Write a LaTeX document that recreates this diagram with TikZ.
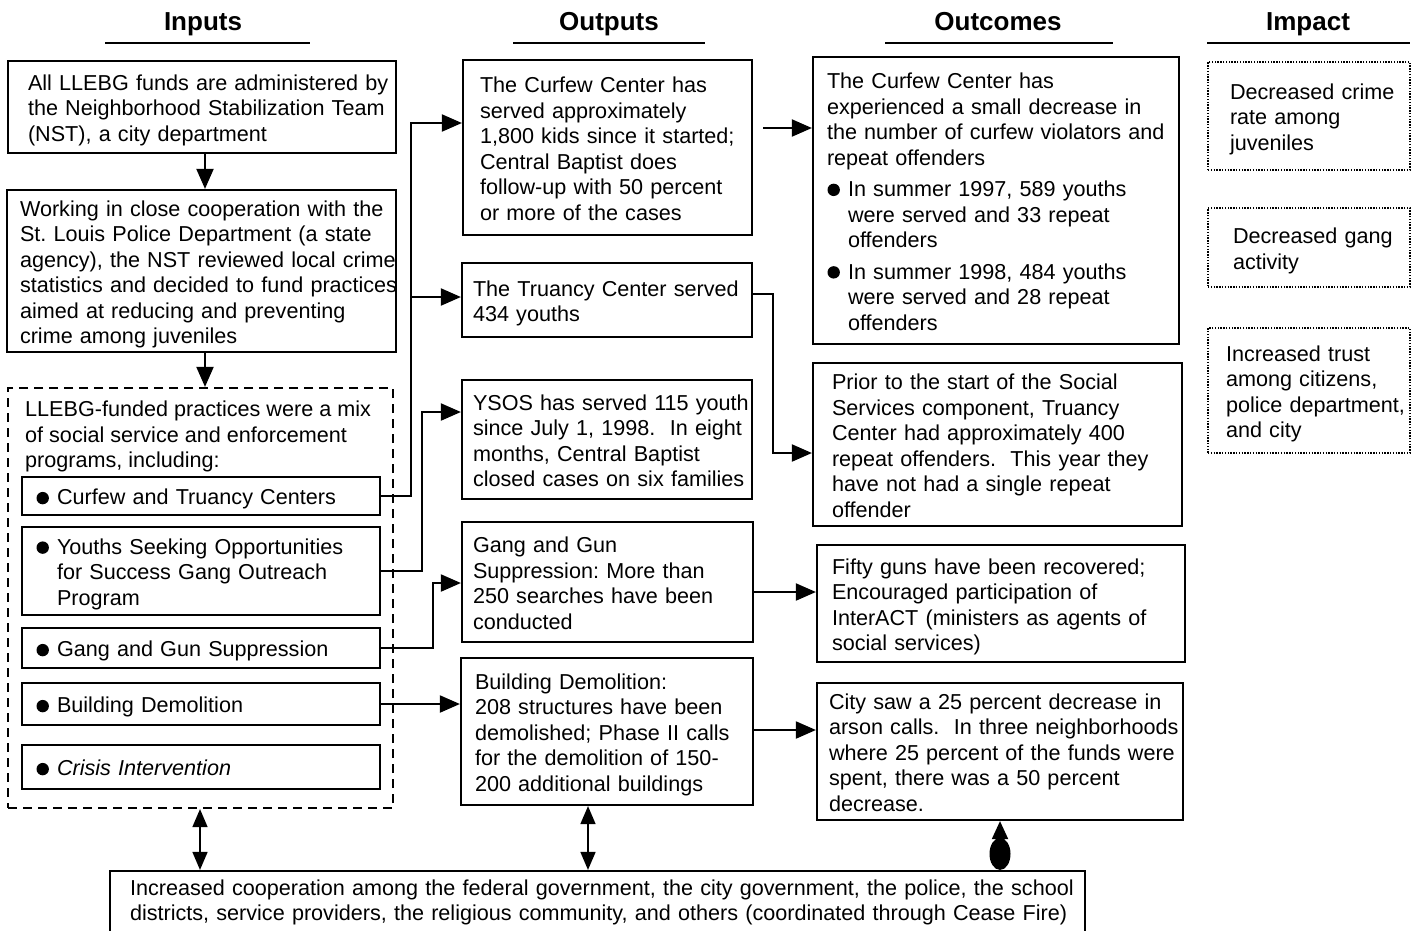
\documentclass[tikz,border=0pt]{standalone}
\usepackage{fontspec}
\setmainfont{Liberation Sans}
\usetikzlibrary{arrows.meta,calc}
\frenchspacing
\newcommand\fsz{\fontsize{21.6}{25.5}\selectfont}
\newcommand\lines[2][3.8pt]{\noindent\raisebox{-#1}[\height][\depth]{\begin{tabular}{@{}l@{}}#2\end{tabular}}}
\newcommand\bul{\makebox[21pt][l]{\hspace{0.5pt}\tikz[baseline={(0pt,-6.8pt)}]\fill (0pt,0pt) circle (6.2pt);}}
\newcommand\hind{\hspace*{21pt}}
\tikzset{
 box/.style={draw, line width=2.2pt, inner sep=0pt, align=left, font=\fsz},
 dbox/.style={draw, line width=2.2pt, dash pattern=on 9pt off 6pt, inner sep=0pt},
 obox/.style={draw, line width=1.8pt, dash pattern=on 1.4pt off 1.4pt, inner sep=0pt, align=left, font=\fsz},
 hdr/.style={font=\bfseries\fontsize{26}{30}\selectfont, inner sep=0pt, anchor=base},
 uline/.style={line width=2.5pt},
 arr/.style={line width=2pt, -{Triangle[length=20pt,width=17pt]}},
 dbl/.style={line width=1.6pt, {Triangle[length=18pt,width=15pt]}-{Triangle[length=18pt,width=15pt]}},
 ell/.style={line width=2pt, {Ellipse[length=32pt,width=21pt]}-{Triangle[length=18pt,width=16pt]}},
}
\begin{document}
\begin{tikzpicture}[x=1pt,y=-1pt]
\fill[white] (0,0) rectangle (1415,930);
\useasboundingbox (0,0) rectangle (1415,930);

% headers
\node[hdr] (h1) at (203,30) {Inputs};
\node[hdr] (h2) at (609,30) {Outputs};
\node[hdr] (h3) at (998,30) {Outcomes};
\node[hdr] (h4) at (1308,30) {Impact};
\draw[uline] (105,43) -- (310,43);
\draw[uline] (513,43) -- (705,43);
\draw[uline] (885,43) -- (1113,43);
\draw[uline] (1207,43) -- (1410,43);

% inputs
\node[box, minimum width=388pt, minimum height=92pt, text width=348pt] (A) at (202,107)
 {\lines{All LLEBG funds are administered by\\the Neighborhood Stabilization Team\\(NST), a city department}};
\node[box, minimum width=389pt, minimum height=162pt, text width=363pt] (B) at (201.5,271)
 {\lines{Working in close cooperation with the\\St. Louis Police Department (a state\\agency), the NST reviewed local crime\\statistics and decided to fund practices\\aimed at reducing and preventing\\crime among juveniles}};
\node[dbox, minimum width=385pt, minimum height=420pt] (C) at (200.5,598) {};
\node[anchor=north west, inner sep=0pt, align=left, font=\fsz] (Ct) at (25,395)
 {\lines{LLEBG-funded practices were a mix\\of social service and enforcement\\programs, including:}};
\node[box, minimum width=358pt, minimum height=38pt, text width=330pt] (CT) at (201,496)
 {\lines{\bul Curfew and Truancy Centers}};
\node[box, minimum width=358pt, minimum height=88pt, text width=330pt] (YS) at (201,571)
 {\lines{\bul Youths Seeking Opportunities\\\hind for Success Gang Outreach\\\hind Program}};
\node[box, minimum width=358pt, minimum height=40pt, text width=330pt] (GG) at (201,648)
 {\lines{\bul Gang and Gun Suppression}};
\node[box, minimum width=358pt, minimum height=42pt, text width=330pt] (BD) at (201,704)
 {\lines{\bul Building Demolition}};
\node[box, minimum width=358pt, minimum height=44pt, text width=330pt] (CI) at (201,767)
 {\lines{\bul \textit{Crisis Intervention}}};

% outputs
\node[box, minimum width=289pt, minimum height=175pt, text width=255pt] (O1) at (607.5,147.5)
 {\lines{The Curfew Center has\\served approximately\\1,800 kids since it started;\\Central Baptist does\\follow-up with 50 percent\\or more of the cases}};
\node[box, minimum width=290pt, minimum height=74pt, text width=268pt] (O2) at (607,300)
 {\lines{The Truancy Center served\\434 youths}};
\node[box, minimum width=290pt, minimum height=119pt, text width=268pt] (O3) at (607,439.5)
 {\lines{YSOS has served 115 youth\\since July 1, 1998.\ \ In eight\\months, Central Baptist\\closed cases on six families}};
\node[box, minimum width=291pt, minimum height=120pt, text width=269pt] (O4) at (607.5,582)
 {\lines{Gang and Gun\\Suppression: More than\\250 searches have been\\conducted}};
\node[box, minimum width=292pt, minimum height=147pt, text width=264pt] (O5) at (607,731.5)
 {\lines{Building Demolition:\\208 structures have been\\demolished; Phase II calls\\for the demolition of 150-\\200 additional buildings}};

% outcomes
\node[box, minimum width=366pt, minimum height=287pt, text width=338pt] (R1) at (996,200.5)
 {\lines{The Curfew Center has\\experienced a small decrease in\\the number of curfew violators and\\repeat offenders\\[6pt]
 \bul In summer 1997, 589 youths\\\hind were served and 33 repeat\\\hind offenders\\[6pt]
 \bul In summer 1998, 484 youths\\\hind were served and 28 repeat\\\hind offenders}};
\node[box, minimum width=369pt, minimum height=163pt, text width=331pt] (R2) at (997.5,444.5)
 {\lines{Prior to the start of the Social\\Services component, Truancy\\Center had approximately 400\\repeat offenders.\ \ This year they\\have not had a single repeat\\offender}};
\node[box, minimum width=368pt, minimum height=117pt, text width=338pt] (R3) at (1001,603.5)
 {\lines{Fifty guns have been recovered;\\Encouraged participation of\\InterACT (ministers as agents of\\social services)}};
\node[box, minimum width=366pt, minimum height=137pt, text width=342pt] (R4) at (1000,751.5)
 {\lines{City saw a 25 percent decrease in\\arson calls.\ \ In three neighborhoods\\where 25 percent of the funds were\\spent, there was a 50 percent\\decrease.}};

% impact
\node[obox, minimum width=202pt, minimum height=108pt, text width=158pt] (I1) at (1309,116)
 {\lines{Decreased crime\\rate among\\juveniles}};
\node[obox, minimum width=202pt, minimum height=79pt, text width=152pt] (I2) at (1309,247.5)
 {\lines{Decreased gang\\activity}};
\node[obox, minimum width=202pt, minimum height=125pt, text width=166pt] (I3) at (1309,390.5)
 {\lines{Increased trust\\among citizens,\\police department,\\and city}};

% bottom
\node[box, minimum width=975pt, minimum height=63pt, text width=935pt] (BT) at (597.5,902.5)
 {\lines[0.5pt]{Increased cooperation among the federal government, the city government, the police, the school\\districts, service providers, the religious community, and others (coordinated through Cease Fire)}};

% connectors
\draw[arr] (A.south -| 205,0) -- (B.north -| 205,0);
\draw[arr] (B.south -| 205,0) -- (C.north -| 205,0);
\draw[arr] (CT.east) -- ++(30,0) |- (O1.west |- 0,123);
\draw[arr] ([xshift=30pt]CT.east) |- (O2.west |- 0,297);
\draw[arr] (YS.east) -- ++(41,0) |- (O3.west |- 0,412);
\draw[arr] (GG.east) -- ++(52,0) |- (O4.west |- 0,583);
\draw[arr] (BD.east) -- (O5.west |- BD.east);
\draw[arr] ($(O1.east |- 0,128)+(10,0)$) -- (R1.west |- 0,128);
\draw[arr] (O2.east |- 0,294) -- ++(20,0) |- (R2.west |- 0,453);
\draw[arr] (O4.east |- 0,592) -- (R3.west |- 0,592);
\draw[arr] (O5.east |- 0,730) -- (R4.west |- 0,730);
\draw[dbl] (C.south -| 200,0) -- (BT.north -| 200,0);
\draw[dbl] (O5.south -| 588,0) -- (BT.north -| 588,0);
\draw[ell] (BT.north -| 1000,0) -- (R4.south -| 1000,0);
\end{tikzpicture}
\end{document}
